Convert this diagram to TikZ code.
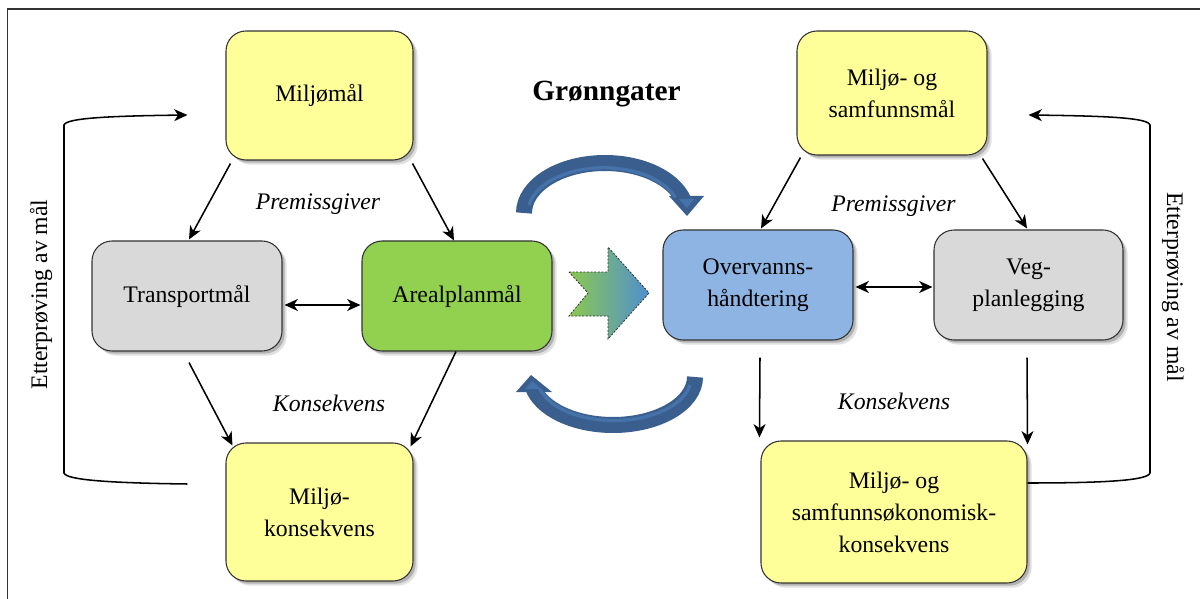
\documentclass[tikz,border=0pt]{standalone}
\usepackage{fontspec}
\setmainfont{Liberation Serif}
\usetikzlibrary{calc,shadows,arrows.meta}
\definecolor{boxyellow}{HTML}{FFFF99}
\definecolor{boxgray}{HTML}{D9D9D9}
\definecolor{boxgreen}{HTML}{92D050}
\definecolor{boxblue}{HTML}{8DB4E2}
\definecolor{arcdark}{HTML}{3A5F8E}
\definecolor{arclight}{HTML}{4672AA}
\definecolor{chevgreen}{HTML}{8CC850}
\definecolor{chevblue}{HTML}{4F8FD0}
\begin{document}
\begin{tikzpicture}[x=0.75pt,y=-0.75pt,
  box/.style={draw=black!80, line width=0.8pt, rounded corners=15pt, align=center, inner sep=0pt,
    font=\fontsize{17.8}{24}\selectfont,
    general shadow={fill=black, opacity=0.12, shadow xshift=3.5pt, shadow yshift=-3.5pt},
    general shadow={fill=black, opacity=0.2, shadow xshift=2pt, shadow yshift=-2pt}},
  conn/.style={line width=1.15pt, -{Stealth[length=10pt,width=9pt,inset=3pt]}},
  dconn/.style={line width=1.15pt, {Stealth[length=10pt,width=9pt,inset=3pt]}-{Stealth[length=10pt,width=9pt,inset=3pt]}},
  lbl/.style={font=\fontsize{17.8}{24}\selectfont\itshape},
  side/.style={font=\fontsize{17.8}{24}\selectfont, inner sep=0pt},
  bigarc/.style={line width=12pt, draw=arcdark},
  arcstripe/.style={line width=2.5pt, draw=arclight},
  archead/.style={fill=arcdark},
  chevron/.style={draw=black!80, line width=0.6pt, dash pattern=on 1.5pt off 1.2pt, left color=chevgreen, right color=chevblue}
  ]
\useasboundingbox (0,0) rectangle (1200,599);
% frame
\draw[line width=0.8pt, black!80] (7.5,599) -- (7.5,9) -- (1200,9);

% boxes
\node[box, fill=boxyellow, minimum width=140.25pt, minimum height=96.75pt] (mm) at (319.5,95.5) {Miljømål};
\node[box, fill=boxgray, minimum width=142.5pt, minimum height=82.5pt] (tm) at (187,296) {Transportmål};
\node[box, fill=boxgreen, minimum width=142.5pt, minimum height=82.5pt] (am) at (457,296) {Arealplanmål};
\node[box, fill=boxyellow, minimum width=140.25pt, minimum height=103.5pt] (mk) at (319.5,512) {Miljø-\\konsekvens};
\node[box, fill=boxyellow, minimum width=142.5pt, minimum height=93pt] (ms) at (892,93) {Miljø- og\\samfunnsmål};
\node[box, fill=boxblue, minimum width=142.5pt, minimum height=82.5pt] (ov) at (758,285) {Overvanns-\\håndtering};
\node[box, fill=boxgray, minimum width=141.75pt, minimum height=82.5pt] (vp) at (1028.5,285) {Veg-\\planlegging};
\node[box, fill=boxyellow, minimum width=199.5pt, minimum height=106.5pt] (mo) at (894,512) {Miljø- og\\samfunnsøkonomisk-\\konsekvens};

% labels
\node[font=\fontsize{22}{26}\selectfont\bfseries, anchor=base] (title) at (606.5,101) {Grønngater};
\node[lbl, anchor=base] (pg1) at (318,210) {Premissgiver};
\node[lbl, anchor=base] (ks1) at (329,411) {Konsekvens};
\node[lbl, anchor=base] (pg2) at (893.5,212) {Premissgiver};
\node[lbl, anchor=base] (ks2) at (894,409) {Konsekvens};
\node[side, rotate=90, anchor=base] (ev1) at (47,294.5) {Etterprøving av mål};
\node[side, rotate=-90, anchor=base] (ev2) at (1167,287) {Etterprøving av mål};

% connectors left
\draw[conn] ($(mm.south west)+(5,3)$) -- ($(tm.north)+(2,-1)$);
\draw[conn] ($(mm.south east)+(-1,3)$) -- ($(am.north)+(-3,0)$);
\draw[conn] ($(tm.south)+(2,11)$) -- ($(mk.north west)+(7,3)$);
\draw[conn] ($(am.south)+(-1,0)$) -- ($(mk.north east)+(-3,4)$);
\draw[dconn] ($(tm.east)+(2,9)$) -- ($(am.west)+(-1,9)$);
% connectors right
\draw[conn] ($(ms.south west)+(4,2)$) -- ($(ov.north)+(3,-1)$);
\draw[conn] ($(ms.south east)+(-5,3)$) -- ($(vp.north)+(-1.5,-1)$);
\draw[dconn] ($(ov.east)+(2,2)$) -- ($(vp.west)+(-1,2)$);
\draw[conn] ($(ov.south)+(2,17)$) -- ($(mo.north west)+(-1,-3)$);
\draw[conn] ($(vp.south)+(-1.5,17)$) -- ($(mo.north east)+(0,4)$);

% feedback loops
\coordinate (lfs) at ($(mk.west)+(-38,-28)$);
\coordinate (lfe) at ($(mm.west)+(-38,19.5)$);
\draw[conn] (lfs) .. controls (110,483) and (66,480) .. (64,473) -- (64,125) .. controls (66,118) and (110,116) .. (lfe);
\coordinate (rfs) at ($(mo.east)+(0,-29)$);
\coordinate (rfe) at ($(ms.east)+(41,22)$);
\draw[conn] (rfs) .. controls (1110,483) and (1148,480) .. (1150,473) -- (1150,125) .. controls (1148,118) and (1110,116) .. (rfe);

% curved blue arrows
\draw[bigarc] (524,213) arc[start angle=180, end angle=345, x radius=81, y radius=50];
\fill[archead] (669,196) -- (704,196) -- (687,216) -- cycle;
\draw[arcstripe] (529,205) arc[start angle=190, end angle=340, x radius=76, y radius=45];
\fill[arclight] (679,199) -- (694,199) -- (687,208) -- cycle;

\draw[bigarc] (695,377) arc[start angle=0, end angle=168, x radius=82, y radius=48];
\fill[archead] (516,392) -- (552,392) -- (531,375) -- cycle;
\draw[arcstripe] (690,385) arc[start angle=10, end angle=165, x radius=77, y radius=43];
\fill[arclight] (525,389) -- (541,389) -- (532,381) -- cycle;

% chevron
\path[chevron] (569,272) -- (608,272) -- (608,247) -- (649,293) -- (608,339) -- (608,316) -- (569,316) -- (588,293) -- cycle;
\end{tikzpicture}
\end{document}
